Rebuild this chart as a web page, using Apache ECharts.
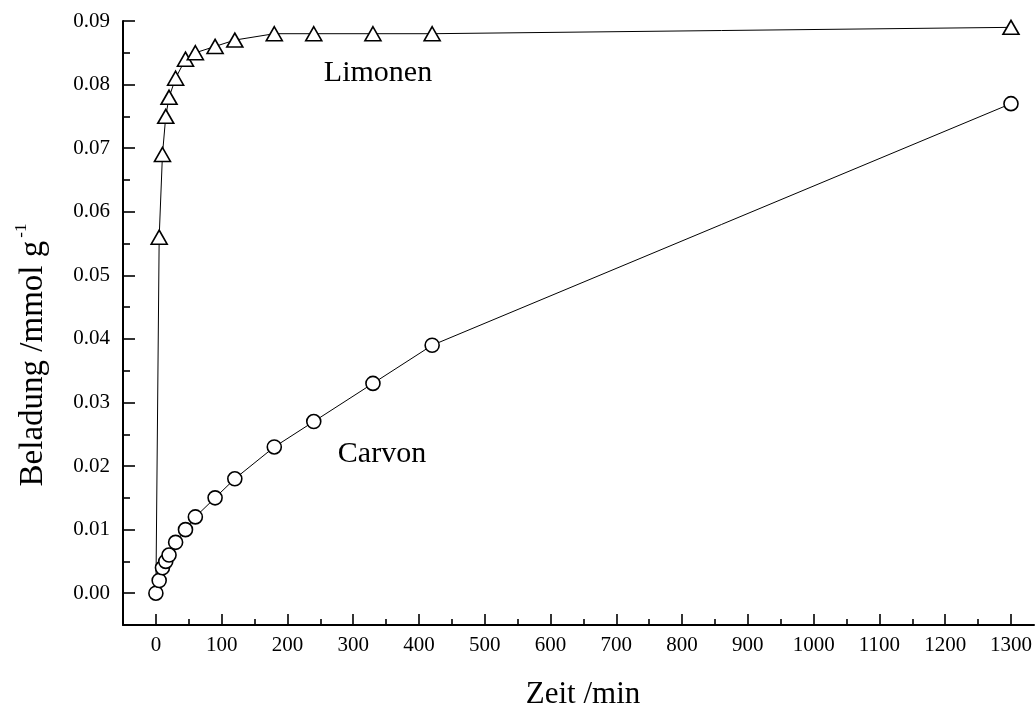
<!DOCTYPE html>
<html>
<head>
<meta charset="utf-8">
<script src="https://cdn.jsdelivr.net/npm/echarts@6/dist/echarts.min.js"></script>
<style>
html,body{margin:0;padding:0;background:#fff;}
#chart{width:1035px;height:710px;}
</style>
</head>
<body>
<div id="chart"></div>
<script>
// Data
var times = [0, 5, 10, 15, 20, 30, 45, 60, 90, 120, 180, 240, 330, 420, 1300];
var limonen = [0, 0.056, 0.069, 0.075, 0.078, 0.081, 0.084, 0.085, 0.086, 0.087, 0.088, 0.088, 0.088, 0.088, 0.089];
var carvon = [0, 0.002, 0.004, 0.005, 0.006, 0.008, 0.010, 0.012, 0.015, 0.018, 0.023, 0.027, 0.033, 0.039, 0.077];
var xMajorTicks = [0, 100, 200, 300, 400, 500, 600, 700, 800, 900, 1000, 1100, 1200, 1300];
var xMinorTicks = [50, 150, 250, 350, 450, 550, 650, 750, 850, 950, 1050, 1150, 1250];
var yMajorTicks = [0, 0.01, 0.02, 0.03, 0.04, 0.05, 0.06, 0.07, 0.08, 0.09];
var yMinorTicks = [0.005, 0.015, 0.025, 0.035, 0.045, 0.055, 0.065, 0.075, 0.085];
var xTitle = 'Zeit /min';
var yTitleMain = 'Beladung /mmol g';
var yTitleSup = '-1';
var labelLimonen = 'Limonen';
var labelCarvon = 'Carvon';

var FONT = '"Liberation Serif", "Times New Roman", serif';

var limonenData = times.map(function (t, i) {
  var d = { value: [t, limonen[i]] };
  if (i === 0) { d.symbol = 'none'; }
  return d;
});
var carvonData = times.map(function (t, i) { return [t, carvon[i]]; });

var chart = echarts.init(document.getElementById('chart'), null, { renderer: 'canvas' });

var xMin = -50, xMax = 1335, yMin = -0.005, yMax = 0.09;

function tickAxis(kind, values, len) {
  return {
    type: 'value', min: kind === 'x' ? xMin : yMin, max: kind === 'x' ? xMax : yMax,
    position: kind === 'x' ? 'bottom' : 'left',
    axisLine: { show: false, onZero: false },
    axisTick: { show: true, inside: true, length: len, customValues: values, lineStyle: { color: '#000', width: 1.6 } },
    axisLabel: { show: false },
    splitLine: { show: false }
  };
}

var option = {
  animation: false,
  backgroundColor: '#ffffff',
  grid: { left: 123, right: 1, top: 21, bottom: 85, containLabel: false, outerBoundsMode: 'none' },
  xAxis: [{
    type: 'value', min: xMin, max: xMax, position: 'bottom',
    axisLine: { show: true, onZero: false, lineStyle: { color: '#000', width: 2 } },
    axisTick: { show: false },
    axisLabel: { show: true, customValues: xMajorTicks, margin: 10, color: '#000', fontFamily: FONT, fontSize: 21,
      formatter: function (v) { return String(v); } },
    splitLine: { show: false }
  }, tickAxis('x', xMajorTicks, 11), tickAxis('x', xMinorTicks, 6)],
  yAxis: [{
    type: 'value', min: yMin, max: yMax, position: 'left',
    axisLine: { show: true, onZero: false, lineStyle: { color: '#000', width: 2 } },
    axisTick: { show: false },
    axisLabel: { show: true, customValues: yMajorTicks, margin: 13, color: '#000', fontFamily: FONT, fontSize: 21,
      formatter: function (v) { return v.toFixed(2); } },
    splitLine: { show: false }
  }, tickAxis('y', yMajorTicks, 12), tickAxis('y', yMinorTicks, 7)],
  graphic: [
    { type: 'text', x: 583, y: 695, style: { text: xTitle, font: '31px ' + FONT, fill: '#000', align: 'center', verticalAlign: 'middle' } },
    { type: 'text', x: 33, y: 355, rotation: Math.PI / 2,
      style: { text: '{m|' + yTitleMain + '}{s|' + yTitleSup + '}', fill: '#000', align: 'center', verticalAlign: 'middle',
        rich: { m: { font: '33px ' + FONT, fill: '#000' }, s: { font: '17px ' + FONT, fill: '#000', padding: [0, 0, 22, 3] } } } },
    { type: 'text', x: 378, y: 73, style: { text: labelLimonen, font: '30px ' + FONT, fill: '#000', align: 'center', verticalAlign: 'middle' } },
    { type: 'text', x: 382, y: 454, style: { text: labelCarvon, font: '30px ' + FONT, fill: '#000', align: 'center', verticalAlign: 'middle' } }
  ],
  series: [{
    name: 'Limonen', type: 'line', xAxisIndex: 0, yAxisIndex: 0,
    data: limonenData, symbol: 'triangle', symbolSize: [16, 14], showAllSymbol: true,
    lineStyle: { color: '#000', width: 1 },
    itemStyle: { color: '#fff', borderColor: '#000', borderWidth: 1.6 },
    z: 2
  }, {
    name: 'Carvon', type: 'line', xAxisIndex: 0, yAxisIndex: 0,
    data: carvonData, symbol: 'circle', symbolSize: 14, showAllSymbol: true,
    lineStyle: { color: '#000', width: 1 },
    itemStyle: { color: '#fff', borderColor: '#000', borderWidth: 1.6 },
    z: 3
  }]
};
chart.setOption(option);
</script>
</body>
</html>
